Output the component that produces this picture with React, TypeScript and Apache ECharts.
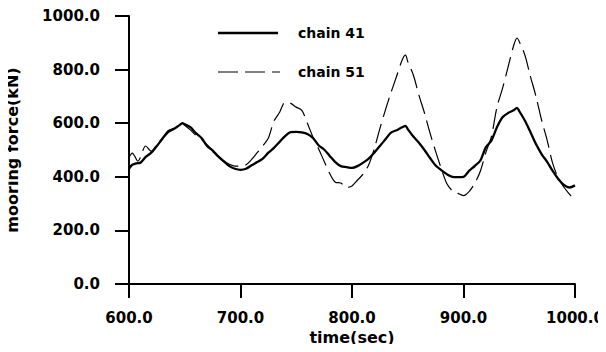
import React, { useEffect, useRef } from "react";
import * as echarts from "echarts";

const times = [
  600, 603, 605, 608, 610, 615, 620, 625, 630, 635, 640, 645, 648, 650, 655, 660, 665, 670, 675, 680,
  685, 690, 695, 700, 705, 710, 715, 720, 725, 730, 735, 740, 745, 750, 755, 760, 765, 770, 775, 780,
  785, 790, 795, 800, 805, 810, 815, 820, 825, 830, 835, 840, 845, 848, 850, 855, 860, 865, 870, 875,
  880, 885, 890, 895, 900, 905, 910, 915, 920, 925, 930, 935, 940, 945, 948, 950, 955, 960, 965, 970,
  975, 980, 985, 990, 995, 1000,
];

const chain41 = [
  430, 445, 448, 451, 452, 474, 490, 515, 542, 567, 578, 592, 600, 596, 585, 563, 545, 515, 498, 476,
  458, 440, 430, 426, 430, 443, 455, 468, 490, 508, 530, 552, 567, 568, 566, 560, 545, 518, 502, 478,
  455, 440, 436, 433, 440, 453, 468, 490, 515, 540, 565, 574, 585, 590, 578, 550, 527, 500, 470, 442,
  425, 410, 400, 399, 400, 422, 440, 460, 510, 535, 585, 622, 638, 648, 657, 645, 610, 567, 522, 485,
  456, 422, 392, 370, 360, 368,
];

const chain51 = [
  472, 488, 478, 458, 470, 515, 495, 520, 545, 572, 580, 595, 598, 592, 575, 555, 540, 520, 500, 478,
  460, 447, 440, 440, 445, 465, 490, 515, 545, 608, 640, 678, 674, 660, 648, 600, 548, 505, 458, 412,
  380, 377, 360, 366, 388, 410, 445, 505, 580, 650, 715, 775, 836, 854, 830, 780, 705, 638, 563, 495,
  432, 375, 348, 338, 330, 345, 375, 420, 490, 550, 660, 730, 810, 890, 918, 905, 855, 775, 700, 612,
  537, 450, 395, 362, 335, 313,
];

const seriesNames = ["chain 41", "chain 51"];
const xTicks = [600, 700, 800, 900, 1000];
const yTicks = [0, 200, 400, 600, 800, 1000];

const FONT = "DejaVu Sans";
const DASH = [20, 7];

function makeAxis(
  name: string,
  ticks: number[],
  interval: number,
  nameGap: number,
  labelMargin: number
) {
  return {
    type: "value",
    min: ticks[0],
    max: ticks[ticks.length - 1],
    interval,
    z: 5,
    name,
    nameLocation: "middle",
    nameGap,
    nameMoveOverlap: false,
    nameTextStyle: { fontFamily: FONT, fontWeight: "bold", fontSize: 16, color: "#000" },
    axisLine: { show: true, onZero: false, lineStyle: { color: "#000", width: 2 } },
    axisTick: {
      show: true,
      inside: false,
      length: 14,
      lineStyle: { color: "#000", width: 2, opacity: 1, type: "solid" },
    },
    splitLine: { show: false },
    axisLabel: {
      show: true,
      hideOverlap: false,
      showMinLabel: true,
      showMaxLabel: true,
      margin: labelMargin,
      fontFamily: FONT,
      fontWeight: "bold",
      fontSize: 15,
      color: "#000",
      formatter: (v: number) => v.toFixed(1),
    },
  };
}

export default function App() {
  const ref = useRef<HTMLDivElement>(null);
  useEffect(() => {
    if (!ref.current) return;
    const chart = echarts.init(ref.current, null, { renderer: "svg" });
    const legendY = [33, 72];
    chart.setOption({
      animation: false,
      backgroundColor: "#fff",
      grid: { left: 129, right: 31, top: 16, bottom: 68, outerBoundsMode: "none" },
      xAxis: makeAxis("time(sec)", xTicks, 100, 45, 26),
      yAxis: makeAxis("mooring force(kN)", yTicks, 200, 109, 29),
      graphic: [
        {
          type: "line",
          shape: { x1: 218, y1: legendY[0], x2: 278, y2: legendY[0] },
          style: { stroke: "#000", lineWidth: 2.3 },
        },
        {
          type: "text",
          x: 298,
          y: legendY[0],
          style: {
            text: seriesNames[0],
            font: `bold 14px '${FONT}'`,
            fill: "#000",
            verticalAlign: "middle",
            align: "left",
          },
        },
        {
          type: "line",
          shape: { x1: 218, y1: legendY[1], x2: 280, y2: legendY[1] },
          style: { stroke: "#000", lineWidth: 1.2, lineDash: DASH },
        },
        {
          type: "text",
          x: 298,
          y: legendY[1],
          style: {
            text: seriesNames[1],
            font: `bold 14px '${FONT}'`,
            fill: "#000",
            verticalAlign: "middle",
            align: "left",
          },
        },
      ],
      series: [
        {
          name: seriesNames[0],
          type: "line",
          data: times.map((t, i) => [t, chain41[i]]),
          symbol: "none",
          smooth: 0.3,
          lineStyle: { color: "#000", width: 2.3, type: "solid" },
          itemStyle: { color: "#000" },
        },
        {
          name: seriesNames[1],
          type: "line",
          data: times.map((t, i) => [t, chain51[i]]),
          symbol: "none",
          smooth: 0.3,
          lineStyle: { color: "#000", width: 1.2, type: DASH },
          itemStyle: { color: "#000" },
        },
      ],
    });
    return () => chart.dispose();
  }, []);
  return <div ref={ref} style={{ width: 606, height: 352, margin: -8 }} />;
}
